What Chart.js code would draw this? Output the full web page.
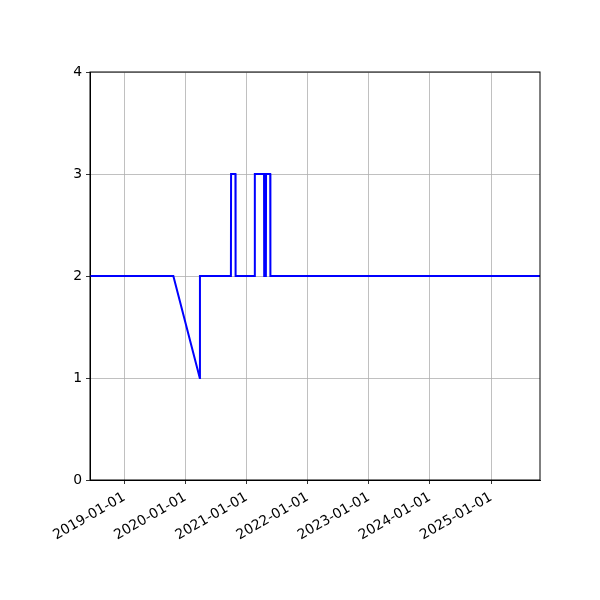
<!DOCTYPE html>
<html>
<head>
<meta charset="utf-8">
<script src="https://cdn.jsdelivr.net/npm/chart.js@4"></script>
<style>
  html, body { margin: 0; padding: 0; background: #fff; }
  #wrap { width: 600px; height: 600px; }
</style>
</head>
<body>
<div id="wrap"><canvas id="chart" width="600" height="600"></canvas></div>
<script>
// data (dates as yyyy-mm-dd)
const DATES = [
    '2018-06-10', '2019-10-21', '2020-03-27', '2020-03-28',
    '2020-09-29', '2020-09-30', '2020-10-26', '2020-10-27',
    '2021-02-18', '2021-02-19', '2021-04-15', '2021-04-16',
    '2021-04-26', '2021-04-27', '2021-05-22', '2021-05-23',
    '2025-10-20'
];
const VALUES = [2, 2, 1, 2, 2, 3, 3, 2, 2, 3, 3, 2, 2, 3, 3, 2, 2];
const TICK_YEARS = [2019, 2020, 2021, 2022, 2023, 2024, 2025];
const Y_TICKS = [0, 1, 2, 3, 4];
const X_RANGE = ['2018-06-10', '2025-10-20'];

const toMs = d => Date.parse(d + 'T00:00:00Z');
const fmtDate = v => new Date(v).toISOString().slice(0, 10);

const FONT = { family: 'DejaVu Sans', size: 13.9 };

// matplotlib-style box around the plot area
const spines = {
    id: 'spines',
    afterDraw(chart) {
        const { ctx, chartArea: a } = chart;
        ctx.save();
        ctx.strokeStyle = '#000';
        ctx.lineWidth = 1;
        ctx.strokeRect(a.left, a.top, a.right - a.left, a.bottom - a.top);
        ctx.restore();
    }
};

new Chart(document.getElementById('chart'), {
    type: 'line',
    data: {
        datasets: [{
            data: DATES.map((d, i) => ({ x: toMs(d), y: VALUES[i] })),
            borderColor: '#0000ff',
            borderWidth: 2,
            pointRadius: 0,
            tension: 0,
            fill: false
        }]
    },
    options: {
        responsive: false,
        animation: false,
        devicePixelRatio: 1,
        layout: { padding: { top: 72, right: 60, left: 0, bottom: 0 } },
        plugins: { legend: { display: false }, tooltip: { enabled: false } },
        scales: {
            x: {
                type: 'linear',
                min: toMs(X_RANGE[0]),
                max: toMs(X_RANGE[1]),
                afterBuildTicks: s => { s.ticks = TICK_YEARS.map(y => ({ value: Date.UTC(y, 0, 1) })); },
                afterFit: s => { s.height = 120; },
                ticks: {
                    autoSkip: false,
                    minRotation: 30,
                    maxRotation: 30,
                    color: '#000',
                    font: FONT,
                    padding: 5,
                    callback: v => fmtDate(v)
                },
                grid: { color: '#b0b0b0', lineWidth: 0.8, tickColor: '#000', tickLength: 4 },
                border: { color: '#000', width: 1 }
            },
            y: {
                min: 0,
                max: 4,
                afterBuildTicks: s => { s.ticks = Y_TICKS.map(v => ({ value: v })); },
                afterFit: s => { s.width = 90; },
                ticks: { color: '#000', font: FONT, padding: 4 },
                grid: { color: '#b0b0b0', lineWidth: 0.8, tickColor: '#000', tickLength: 4 },
                border: { color: '#000', width: 1 }
            }
        }
    },
    plugins: [spines]
});
</script>
</body>
</html>
